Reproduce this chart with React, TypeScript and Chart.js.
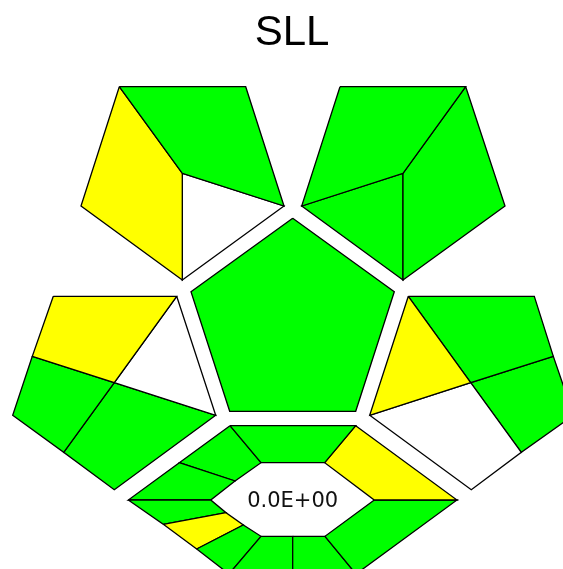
import React, { useEffect, useRef } from "react";
import { Chart, registerables } from "chart.js";

Chart.register(...registerables);

type P = [number, number];

const titleText = "SLL";
const centerLabel = "0.0E+00";
const centerLabelAt: P = [292.7, 501.5];

const GREEN = "#00ff00";
const YELLOW = "#ffff00";
const WHITE = "#ffffff";

// Upper-left pentagon
const ulGreen: P[] = [[119.3, 86.7], [245.7, 86.7], [284, 206], [182.3, 173.3]];
const ulYellow: P[] = [[119.3, 86.7], [182.3, 173.3], [182.3, 280], [81, 206]];
const ulWhite: P[] = [[182.3, 173.3], [284, 206], [182.3, 280]];

// Upper-right pentagon
const urTop: P[] = [[340, 86.7], [465.7, 86.7], [403, 173.3], [301.7, 206]];
const urRight: P[] = [[465.7, 86.7], [505, 206], [403, 280], [403, 173.3]];
const urLeft: P[] = [[403, 173.3], [403, 280], [301.7, 206]];

// Central pentagon
const centerPentagon: P[] = [[292.7, 218.3], [394.3, 291.7], [355.7, 411.3], [229.7, 411.3], [191, 291.7]];

// Lower-left pentagon
const llYellow: P[] = [[53.3, 296.3], [176.7, 296.3], [114.3, 382.7], [32.3, 356.3]];
const llWhite: P[] = [[176.7, 296.3], [215.7, 415.3], [114.3, 382.7]];
const llLeft: P[] = [[32.3, 356.3], [114.3, 382.7], [63.7, 452.3], [12.7, 415.3]];
const llRight: P[] = [[114.3, 382.7], [215.7, 415.3], [114.3, 489.7], [63.7, 452.3]];

// Lower-right pentagon
const lrYellow: P[] = [[408.3, 296.3], [470.7, 382.7], [369.7, 415.3]];
const lrWhite: P[] = [[369.7, 415.3], [470.7, 382.7], [521.3, 452.3], [471.3, 489.7]];
const lrTop: P[] = [[408.3, 296.3], [534.3, 296.3], [553.3, 356.3], [470.7, 382.7]];
const lrRight: P[] = [[470.7, 382.7], [553.3, 356.3], [573.5, 415.3], [521.3, 452.3]];

// Bottom ring
const ringTop: P[] = [[230, 425.7], [355.7, 425.7], [324.7, 462.7], [261, 462.7]];
const ringUpperRight: P[] = [[355.7, 425.7], [457, 500], [374.3, 500], [324.7, 462.7]];
const ringLowerRight: P[] = [[374.3, 500], [457, 500], [356, 574], [325, 536.3]];
const ringBottomRight: P[] = [[292.7, 536.3], [325, 536.3], [356, 574], [292.7, 574]];
const ringBottomLeft: P[] = [[261, 536.3], [292.7, 536.3], [292.7, 574], [229, 574]];
const ringSmallA: P[] = [[196.7, 549], [243.3, 525], [261, 536.3], [229, 574]];
const ringYellow: P[] = [[163.3, 524.3], [226, 512.7], [243.3, 525], [196.7, 549]];
const ringSmallB: P[] = [[128.3, 500], [210.7, 500], [226, 512.7], [163.3, 524.3]];
const ringSmallC: P[] = [[179.3, 462.7], [235, 481], [210.7, 500], [128.3, 500]];
const ringSmallD: P[] = [[230, 425.7], [261, 462.7], [235, 481], [179.3, 462.7]];

const cells: [P[], string][] = [
  [ulGreen, GREEN], [ulYellow, YELLOW], [ulWhite, WHITE],
  [urTop, GREEN], [urRight, GREEN], [urLeft, GREEN],
  [centerPentagon, GREEN],
  [llYellow, YELLOW], [llWhite, WHITE], [llLeft, GREEN], [llRight, GREEN],
  [lrYellow, YELLOW], [lrWhite, WHITE], [lrTop, GREEN], [lrRight, GREEN],
  [ringTop, GREEN], [ringUpperRight, YELLOW], [ringLowerRight, GREEN],
  [ringBottomRight, GREEN], [ringBottomLeft, GREEN], [ringSmallA, GREEN],
  [ringYellow, YELLOW], [ringSmallB, GREEN], [ringSmallC, GREEN], [ringSmallD, GREEN],
];

const centerLabelPlugin = {
  id: "centerLabel",
  afterDraw(chart: any) {
    const { ctx, scales } = chart;
    ctx.save();
    ctx.font = '21px "DejaVu Sans"';
    ctx.fillStyle = "#111111";
    ctx.textAlign = "center";
    ctx.textBaseline = "middle";
    ctx.fillText(centerLabel, scales.x.getPixelForValue(centerLabelAt[0]), scales.y.getPixelForValue(centerLabelAt[1]));
    ctx.restore();
  },
};

export default function App() {
  const ref = useRef<HTMLCanvasElement>(null);
  useEffect(() => {
    document.body.style.margin = "0";
    const chart = new Chart(ref.current!, {
      type: "scatter",
      data: {
        datasets: cells.map(([poly, color]) => ({
          data: [...poly, poly[0]].map(([x, y]) => ({ x, y })),
          showLine: true,
          fill: "shape",
          backgroundColor: color,
          borderColor: "#000000",
          borderWidth: 1.3,
          borderJoinStyle: "miter",
          tension: 0,
          pointRadius: 0,
          pointHoverRadius: 0,
        })),
      },
      options: {
        responsive: false,
        animation: false,
        events: [],
        layout: { padding: 0 },
        scales: {
          x: { type: "linear", display: false, min: 0, max: 584 },
          y: { type: "linear", display: false, reverse: true, min: 60, max: 569 },
        },
        plugins: {
          legend: { display: false },
          tooltip: { enabled: false },
          title: {
            display: true,
            text: titleText,
            color: "#000000",
            font: { family: '"Liberation Sans"', size: 42, weight: "normal", lineHeight: 1.2 },
            padding: { top: 8, bottom: 1.6 },
          },
        },
      },
      plugins: [centerLabelPlugin],
    } as any);
    return () => chart.destroy();
  }, []);
  return (
    <div style={{ width: 563, height: 569, overflow: "hidden", position: "relative" }}>
      <canvas ref={ref} width={584} height={569} style={{ display: "block" }} />
    </div>
  );
}
